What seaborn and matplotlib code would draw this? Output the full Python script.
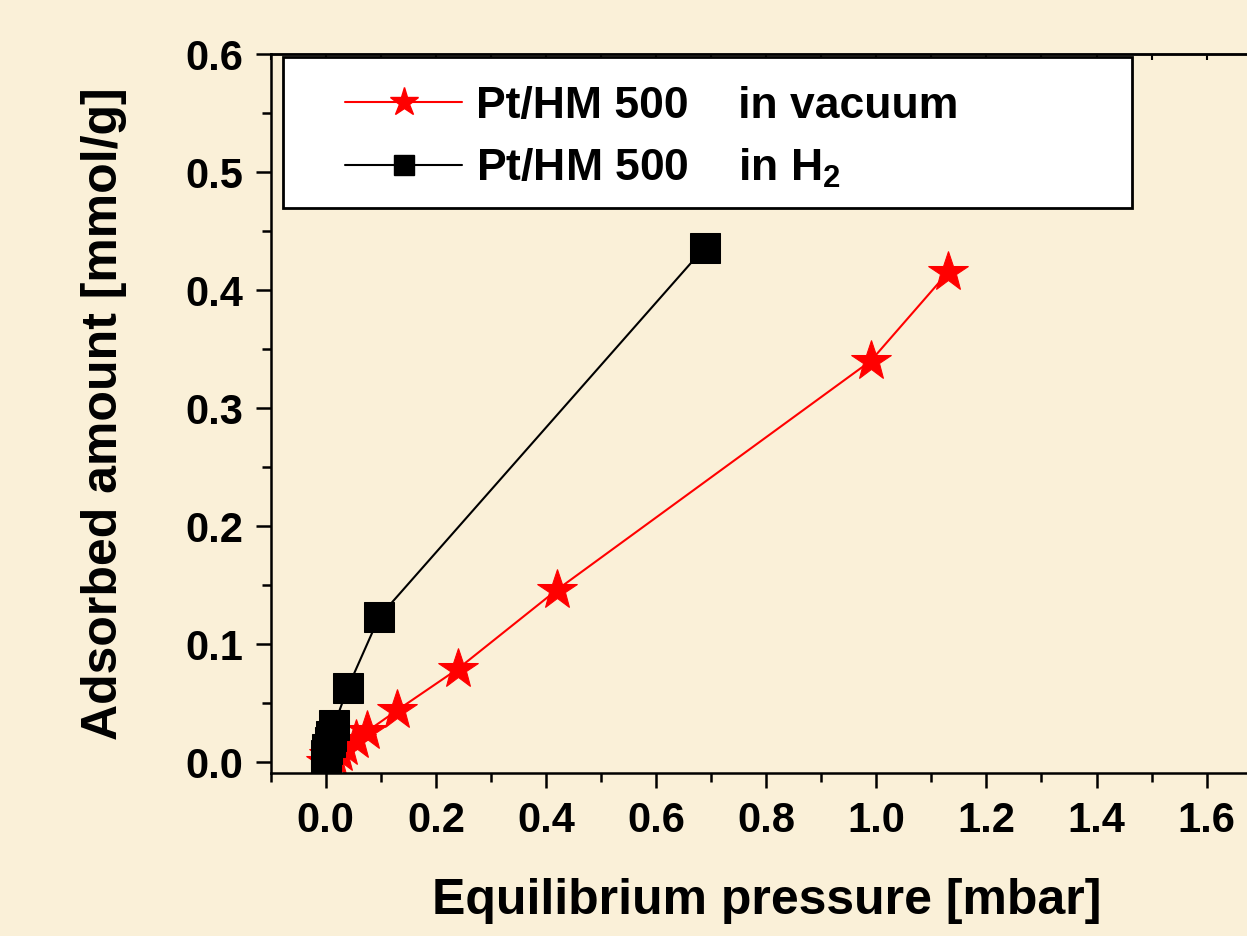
import matplotlib
matplotlib.use("Agg")
import matplotlib.pyplot as plt
import seaborn as sns
import numpy as np
from matplotlib.ticker import FormatStrFormatter, MultipleLocator
from matplotlib.patches import Rectangle
from matplotlib.lines import Line2D

# ---------------- data ----------------
vac_pressure = [0.0, 0.005, 0.015, 0.025, 0.035, 0.055, 0.075, 0.13, 0.24, 0.42, 0.99, 1.13]
vac_amount = [0.0, 0.006, 0.004, 0.008, 0.013, 0.019, 0.026, 0.044, 0.079, 0.146, 0.340, 0.415]
h2_pressure = [0.0, 0.0, 0.003, 0.007, 0.010, 0.015, 0.040, 0.097, 0.688]
h2_amount = [0.0, 0.006, 0.011, 0.017, 0.022, 0.031, 0.063, 0.123, 0.436]
series_labels = ["Pt/HM 500    in vacuum", "Pt/HM 500    in H$_2$"]
x_label = "Equilibrium pressure [mbar]"
y_label = "Adsorbed amount [mmol/g]"

# ---------------- style ----------------
bg = "#FAF0D8"
sns.set_theme(style="ticks")
plt.rcParams["font.family"] = ["Liberation Sans", "DejaVu Sans"]
plt.rcParams["font.weight"] = "bold"
plt.rcParams["text.color"] = "black"
plt.rcParams["axes.labelcolor"] = "black"
plt.rcParams["mathtext.fontset"] = "custom"
plt.rcParams["mathtext.bf"] = "Liberation Sans:bold"
plt.rcParams["mathtext.rm"] = "Liberation Sans:bold"
plt.rcParams["mathtext.default"] = "bf"

fig = plt.figure(figsize=(12.47, 9.36), dpi=100, facecolor=bg)
ax = fig.add_axes([0.2171, 0.1741, 0.7947, 0.7682])
ax.set_facecolor(bg)

sns.lineplot(x=h2_pressure, y=h2_amount, ax=ax, color="black", linewidth=1.5,
             marker="s", markersize=21, markeredgecolor="black", markerfacecolor="black",
             sort=False, estimator=None, zorder=3)
sns.lineplot(x=vac_pressure, y=vac_amount, ax=ax, color="red", linewidth=1.5,
             marker="*", markersize=30, markeredgecolor="red", markerfacecolor="red",
             sort=False, estimator=None, zorder=2)

ax.set_xlim(-0.1, 1.7)
ax.set_ylim(-0.0093, 0.6)

ax.xaxis.set_minor_locator(MultipleLocator(0.1))
ax.set_xticks(np.arange(0, 1.61, 0.2))
ax.yaxis.set_major_locator(MultipleLocator(0.1))
ax.yaxis.set_minor_locator(MultipleLocator(0.05))
ax.xaxis.set_major_formatter(FormatStrFormatter("%.1f"))
ax.yaxis.set_major_formatter(FormatStrFormatter("%.1f"))

ax.tick_params(axis="both", which="major", direction="out", length=11, width=1.8,
               labelsize=30, pad=9, colors="black")
ax.tick_params(axis="both", which="minor", direction="out", length=6.5, width=1.8, colors="black")
ax.tick_params(axis="x", which="both", top=False)
ax.tick_params(axis="y", which="both", right=False)
for lab in ax.get_xticklabels() + ax.get_yticklabels():
    lab.set_fontweight("bold")

for s in ["left", "bottom", "top"]:
    ax.spines[s].set_linewidth(1.8)
    ax.spines[s].set_color("black")
ax.spines["right"].set_visible(False)

# top inward ticks
secx = ax.secondary_xaxis("top")
secx.set_xticks(np.arange(-0.1, 1.71, 0.1))
secx.tick_params(direction="in", length=4, width=1.5, labeltop=False, colors="black")
secx.spines["top"].set_linewidth(1.8)

ax.set_xlabel(x_label, fontsize=36, fontweight="bold", labelpad=27, color="black")
ax.set_ylabel(y_label, fontsize=36, fontweight="bold", labelpad=42, color="black")

# legend box
ax.add_patch(Rectangle((0.0124, 0.786), 0.857, 0.2098, transform=ax.transAxes,
                       facecolor="white", edgecolor="black", linewidth=2, zorder=4,
                       clip_on=False))
handles = [
    Line2D([], [], color="red", linewidth=1.5, marker="*", markersize=21,
           markerfacecolor="red", markeredgecolor="red"),
    Line2D([], [], color="black", linewidth=1.5, marker="s", markersize=14,
           markerfacecolor="black", markeredgecolor="black"),
]
leg = ax.legend(handles, series_labels, loc="center left", bbox_to_anchor=(0.0525, 0.883),
                frameon=False, borderpad=0, handlelength=2.64, handletextpad=0.3,
                labelspacing=0.45, prop={"size": 32, "weight": "bold"})
leg.set_zorder(5)
for t in leg.get_texts():
    t.set_color("black")

fig.savefig("out.png", dpi=100, facecolor=bg)
